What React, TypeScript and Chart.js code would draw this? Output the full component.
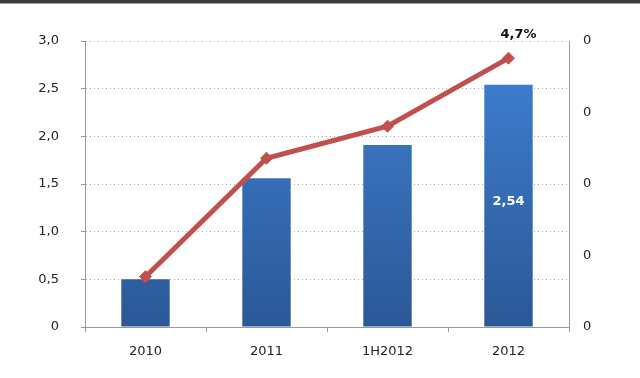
import React, { useEffect, useRef } from "react";
import { Chart, registerables } from "chart.js";

Chart.register(...registerables);

const categories = ["2010", "2011", "1H2012", "2012"];
const barValues = [0.5, 1.56, 1.91, 2.54];
const lineValues = [0.88, 2.95, 3.51, 4.7];
const barLabels = ["", "", "", "2,54"];
const lineLabels = ["", "", "", "4,7%"];
const leftMin = 0;
const leftMax = 3;
const leftStep = 0.5;
const rightMin = 0;
const rightMax = 5;
const rightStep = 1.25;

const FONT = "'DejaVu Sans', Verdana, sans-serif";

const gradientPlugin = {
  id: "barGradient",
  beforeDatasetsDraw(chart: any) {
    const meta = chart.getDatasetMeta(0);
    const c = chart.ctx;
    meta.data.forEach((el: any) => {
      const g = c.createLinearGradient(0, el.y, 0, el.base);
      g.addColorStop(0, "#3c7bcb");
      g.addColorStop(1, "#2b5896");
      el.options.backgroundColor = g;
    });
  },
};

const labelPlugin = {
  id: "valueLabels",
  afterDatasetsDraw(chart: any) {
    const c = chart.ctx;
    c.save();
    c.font = `bold 13px ${FONT}`;
    c.textAlign = "center";
    c.textBaseline = "middle";
    const barMeta = chart.getDatasetMeta(0);
    barMeta.data.forEach((el: any, i: number) => {
      if (!barLabels[i]) return;
      c.fillStyle = "#ffffff";
      c.fillText(barLabels[i], el.x, (el.y + el.base) / 2 - 4);
    });
    const lineMeta = chart.getDatasetMeta(1);
    lineMeta.data.forEach((el: any, i: number) => {
      if (!lineLabels[i]) return;
      c.fillStyle = "#111111";
      c.fillText(lineLabels[i], el.x + 10, el.y - 24);
    });
    c.restore();
  },
};

export default function App() {
  const ref = useRef<HTMLCanvasElement | null>(null);

  useEffect(() => {
    document.body.style.margin = "0";
    if (!ref.current) return;
    const chart = new Chart(ref.current, {
      type: "bar",
      data: {
        labels: categories,
        datasets: [
          {
            type: "bar",
            data: barValues,
            yAxisID: "y",
            backgroundColor: "#3468b0",
            borderWidth: 0,
            barPercentage: 0.4,
            categoryPercentage: 1,
            order: 2,
          },
          {
            type: "line",
            data: lineValues,
            yAxisID: "y1",
            borderColor: "#c0504d",
            backgroundColor: "#c0504d",
            borderWidth: 5,
            pointStyle: "rectRot",
            pointRadius: 6,
            pointBorderWidth: 1,
            pointBackgroundColor: "#c0504d",
            pointBorderColor: "#c0504d",
            tension: 0,
            order: 1,
          } as any,
        ],
      },
      options: {
        responsive: false,
        animation: false,
        events: [],
        layout: { padding: { top: 41, left: 0, right: 0, bottom: 0 } },
        plugins: {
          legend: { display: false },
          tooltip: { enabled: false },
        },
        scales: {
          x: {
            afterFit: (s: any) => {
              s.height = 51;
            },
            grid: {
              display: true,
              drawOnChartArea: false,
              drawTicks: true,
              tickLength: 5,
              color: "#9a9a9a",
              offset: true,
            },
            border: { display: true, color: "#9a9a9a", width: 1 },
            ticks: {
              color: "#222222",
              font: { family: FONT, size: 13 },
              padding: 12,
              maxRotation: 0,
            },
          },
          y: {
            position: "left",
            min: leftMin,
            max: leftMax,
            afterFit: (s: any) => {
              s.width = 85;
            },
            grid: {
              color: "#a8a8a8",
              drawTicks: true,
              tickLength: 4,
              tickColor: "#9a9a9a",
              tickBorderDash: [],
            } as any,
            border: { display: true, color: "#9a9a9a", width: 1, dash: [1, 3] },
            ticks: {
              stepSize: leftStep,
              color: "#222222",
              font: { family: FONT, size: 13 },
              padding: 22,
              callback: (v: any) =>
                Number(v) === 0 ? "0" : Number(v).toFixed(1).replace(".", ","),
            },
          },
          y1: {
            position: "right",
            min: rightMin,
            max: rightMax,
            afterFit: (s: any) => {
              s.width = 71;
            },
            grid: { drawOnChartArea: false, drawTicks: false },
            border: { display: true, color: "#9a9a9a", width: 1 },
            ticks: {
              stepSize: rightStep,
              color: "#222222",
              font: { family: FONT, size: 13 },
              padding: 14,
              callback: () => "0",
            },
          },
        },
      },
      plugins: [gradientPlugin, labelPlugin],
    });
    return () => chart.destroy();
  }, []);

  return (
    <div style={{ position: "relative", width: 640, height: 378, background: "#ffffff" }}>
      <canvas ref={ref} width={640} height={378} style={{ display: "block" }} />
      <div
        style={{
          position: "absolute",
          left: 0,
          top: 0,
          width: 640,
          height: 3,
          background: "#3a3a3a",
          borderBottom: "1px solid #9a9a9a",
        }}
      />
    </div>
  );
}
